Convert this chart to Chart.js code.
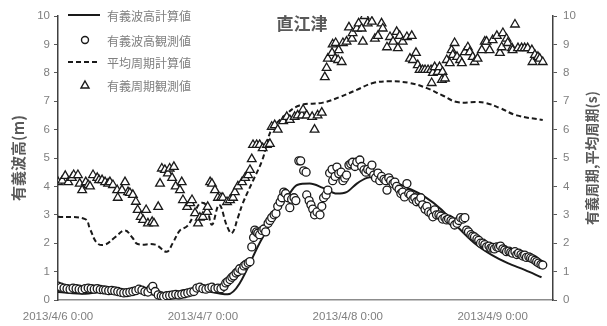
<!DOCTYPE html>
<html lang="ja">
<head>
    <meta charset="UTF-8">
    <title>直江津</title>
    <script src="https://cdn.jsdelivr.net/npm/chart.js"></script>
    <style>
        body { margin: 0; background: #fff; }
        canvas { display: block; }
    </style>
</head>
<body>
    <canvas id="chart" width="607" height="326"></canvas>

    <script>
        // x values are hours since 2013/4/6 0:00
        const tickHours = [0, 24, 48, 72];
        const tickLabels = ["2013/4/6 0:00", "2013/4/7 0:00", "2013/4/8 0:00", "2013/4/9 0:00"];

        // 有義波高計算値 (m)
        const calcWaveHours = [0, 4.5, 7, 12, 16, 18, 21, 23, 25, 27,
            28.1, 33.9, 36.3, 37.9, 39.6, 41.7, 43.9, 46.2, 47.8, 49.5,
            51.2, 53.3, 55.8, 57.9, 60.8, 63.6, 66.2, 69, 71.9, 74.5,
            77.3, 80.1];
        const calcWaveValues = [0.28, 0.22, 0.28, 0.3, 0.18, 0.12, 0.35, 0.35, 0.3, 0.22,
            0.2, 2.2, 3.1, 3.6, 4.05, 4.1, 3.95, 3.75, 3.8, 4.1,
            4.3, 4.35, 4.15, 3.95, 3.63, 3.17, 2.57, 2.0, 1.58, 1.3,
            1.06, 0.8];

        // 有義波高観測値 (m)
        const obsWaveHours = [
            0, 0.5, 1.0, 1.5, 2.0, 2.5, 3.0, 3.5, 4.0, 4.5,
            5.0, 5.5, 6.0, 6.5, 7.0, 7.5, 7.9, 8.4, 8.9, 9.4,
            9.9, 10.4, 10.9, 11.4, 11.9, 12.4, 12.9, 13.4, 13.9, 14.4,
            14.9, 15.4, 15.7, 16.1, 16.6, 17.1, 17.5, 18.0, 18.5, 19.0,
            19.5, 20.0, 20.5, 21.0, 21.5, 22.0, 22.5, 23.0, 23.5, 24.0,
            24.5, 25.0, 25.5, 26.0, 26.5, 27.0, 27.5, 27.8, 28.1, 28.5,
            28.8, 29.1, 29.5, 29.8, 30.1, 30.5, 30.8, 31.1, 31.5, 31.8,
            32.1, 32.4, 32.6, 32.9, 33.1, 33.4, 33.8, 34.1, 34.4, 34.8,
            35.1, 35.4, 35.8, 36.1, 36.4, 36.8, 37.1, 37.4, 37.7, 38.1,
            38.4, 38.7, 39.1, 39.4, 39.9, 40.2, 40.7, 41.1, 41.2, 41.6,
            41.9, 42.2, 42.5, 42.9, 43.4, 43.7, 44.0, 44.4, 44.7, 45.0,
            45.4, 45.5, 45.9, 46.2, 46.5, 46.9, 47.2, 47.5, 47.8, 48.2,
            48.5, 48.8, 49.2, 49.5, 50.0, 50.3, 50.7, 51.0, 51.3, 51.7,
            52.0, 52.3, 52.6, 53.0, 53.3, 53.6, 54.0, 54.3, 54.5, 54.8,
            55.1, 55.5, 55.8, 56.1, 56.5, 56.8, 57.1, 57.4, 57.8, 58.1,
            58.4, 58.8, 59.1, 59.4, 59.8, 60.1, 60.4, 60.8, 61.1, 61.4,
            61.8, 62.1, 62.4, 62.7, 63.1, 63.4, 63.7, 64.1, 64.4, 64.7,
            65.1, 65.4, 65.7, 66.1, 66.4, 66.7, 67.1, 67.4, 67.7, 68.0,
            68.4, 68.7, 69.0, 69.4, 69.7, 70.0, 70.4, 70.7, 71.0, 71.4,
            71.7, 72.0, 72.3, 72.7, 73.0, 73.3, 73.7, 74.0, 74.3, 74.7,
            75.0, 75.3, 75.7, 76.0, 76.3, 76.7, 77.0, 77.3, 77.6, 78.0,
            78.3, 78.6, 79.0, 79.3, 79.6, 80.0, 80.3];
        const obsWaveValues = [
            0.49, 0.45, 0.42, 0.40, 0.38, 0.42, 0.40, 0.38, 0.36, 0.40,
            0.42, 0.40, 0.38, 0.40, 0.37, 0.36, 0.35, 0.33, 0.34, 0.32,
            0.30, 0.27, 0.25, 0.26, 0.28, 0.30, 0.33, 0.38, 0.35, 0.30,
            0.28, 0.40, 0.48, 0.30, 0.18, 0.14, 0.12, 0.15, 0.16, 0.18,
            0.20, 0.18, 0.20, 0.22, 0.25, 0.28, 0.30, 0.42, 0.45, 0.40,
            0.38, 0.42, 0.45, 0.40, 0.42, 0.40, 0.48, 0.60, 0.65, 0.72,
            0.80, 0.85, 0.95, 1.00, 1.10, 1.05, 1.20, 1.25, 1.30, 1.35,
            1.87, 2.20, 2.46, 2.40, 2.35, 2.30, 2.45, 2.50, 2.40, 2.70,
            2.80, 2.90, 3.00, 3.05, 3.30, 3.45, 3.60, 3.80, 3.75, 3.60,
            3.25, 3.55, 3.60, 3.50, 4.90, 4.90, 4.55, 4.50, 3.70, 3.50,
            3.35, 3.20, 3.00, 3.10, 3.00, 3.30, 3.60, 3.70, 3.87, 4.47,
            4.60, 4.20, 4.35, 4.68, 4.45, 4.50, 4.20, 4.30, 4.40, 4.75,
            4.80, 4.85, 4.70, 4.86, 4.93, 4.70, 4.58, 4.50, 4.60, 4.55,
            4.75, 4.40, 4.30, 4.47, 4.20, 4.35, 4.25, 4.20, 3.87, 4.30,
            4.20, 4.10, 4.15, 4.00, 3.90, 3.75, 3.80, 3.63, 4.10, 3.75,
            3.70, 3.55, 3.60, 3.46, 3.50, 3.60, 3.35, 3.20, 3.30, 3.10,
            3.05, 2.93, 3.17, 3.00, 3.00, 2.95, 2.85, 2.90, 2.82, 2.85,
            2.80, 2.75, 2.64, 2.70, 2.80, 2.90, 2.85, 2.90, 2.46, 2.40,
            2.30, 2.25, 2.22, 2.15, 2.10, 2.00, 2.00, 1.95, 1.87, 1.90,
            1.83, 1.85, 1.80, 1.87, 1.85, 1.90, 1.80, 1.76, 1.70, 1.72,
            1.68, 1.65, 1.70, 1.60, 1.65, 1.60, 1.55, 1.58, 1.50, 1.52,
            1.48, 1.45, 1.40, 1.35, 1.30, 1.25, 1.23];

        // 平均周期計算値 (s)
        const calcPeriodHours = [0, 4.5, 5.3, 6.5, 7.8, 9.4, 11.1, 12.3, 13.2, 16.1,
            18.0, 19.0, 20.2, 21.4, 22.4, 23.5, 24.5, 25.5, 26.7, 28.0,
            28.8, 29.8, 30.6, 32.3, 33.8, 34.6, 35.4, 37.6, 40.0, 43.9,
            46.7, 49.5, 52.2, 55.0, 58.3, 61.1, 63.7, 66.1, 69.4, 71.0,
            73.2, 76.0, 80.3];
        const calcPeriodValues = [2.93, 2.85, 2.5, 2.0, 1.95, 2.2, 2.45, 2.2, 1.97, 1.95,
            1.7, 2.0, 2.45, 2.6, 2.95, 3.4, 3.35, 2.65, 3.35, 2.6,
            2.35, 2.9, 3.4, 4.2, 4.9, 5.5, 6.0, 6.5, 6.85, 6.95,
            7.15, 7.4, 7.64, 7.7, 7.64, 7.46, 7.2, 6.97, 6.97, 6.93,
            6.76, 6.5, 6.34];

        // 有義周期観測値 (s)
        const obsPeriodHours = [
            0.0, 0.7, 1.2, 1.7, 2.3, 2.6, 3.3, 3.6, 4.0, 4.6,
            5.0, 5.3, 5.8, 6.5, 6.8, 7.3, 7.8, 8.3, 8.6, 9.1,
            9.8, 9.9, 10.6, 11.1, 11.6, 11.9, 12.4, 12.9, 13.2, 13.7,
            14.1, 14.6, 14.9, 15.6, 15.9, 16.6, 16.9, 17.2, 17.7, 18.2,
            18.5, 18.9, 19.2, 19.5, 20.2, 20.5, 20.7, 21.4, 21.9, 22.2,
            22.7, 23.2, 23.5, 24.0, 24.7, 24.8, 25.2, 25.5, 26.0, 26.5,
            27.0, 27.3, 28.0, 28.5, 29.0, 29.3, 29.8, 30.5, 31.0, 31.5,
            31.8, 32.1, 32.3, 32.9, 33.4, 33.9, 34.6, 35.1, 35.4, 35.9,
            36.4, 37.3, 37.9, 38.4, 39.2, 39.7, 40.4, 40.6, 41.2, 42.1,
            42.5, 43.0, 43.7, 44.2, 44.5, 44.7, 45.4, 45.5, 45.9, 46.0,
            46.4, 46.5, 47.0, 47.2, 47.8, 48.2, 48.7, 48.8, 49.5, 49.8,
            50.3, 50.5, 50.8, 51.3, 52.0, 52.5, 53.0, 53.6, 53.8, 54.5,
            55.0, 55.5, 56.1, 56.3, 56.6, 57.1, 57.8, 58.3, 58.6, 58.8,
            59.3, 59.6, 59.9, 60.4, 60.8, 61.3, 61.8, 61.9, 62.1, 62.4,
            62.9, 63.2, 63.6, 63.7, 64.1, 64.4, 64.9, 65.2, 65.4, 65.7,
            66.1, 66.6, 66.9, 67.4, 67.9, 68.2, 68.7, 69.0, 69.5, 70.2,
            70.7, 71.0, 71.5, 72.0, 72.7, 73.2, 73.5, 73.7, 74.3, 74.5,
            75.2, 75.3, 75.7, 76.2, 76.8, 77.3, 77.8, 78.5, 78.6, 79.0,
            79.5, 79.8, 80.3];
        const obsPeriodValues = [
            4.15, 4.2, 4.37, 4.15, 4.3, 4.4, 4.4, 4.1, 3.87, 4.15,
            4.05, 4.0, 4.4, 4.3, 4.22, 4.22, 4.15, 4.1, 4.15, 4.05,
            3.87, 3.6, 3.87, 4.15, 3.8, 3.77, 3.7, 3.46, 3.17, 2.93,
            2.82, 3.17, 2.7, 2.75, 2.7, 3.28, 4.1, 4.63, 4.58, 4.46,
            4.63, 4.3, 4.69, 4.0, 3.87, 4.15, 3.52, 3.28, 3.41, 3.52,
            3.06, 2.7, 2.9, 2.93, 3.1, 3.28, 4.15, 4.1, 3.87, 3.6,
            3.6, 3.6, 3.45, 3.52, 3.6, 3.8, 4.0, 4.15, 4.3, 4.4,
            4.58, 4.96, 5.46, 5.46, 5.46, 5.35, 5.46, 5.5, 6.1, 6.16,
            6.0, 6.3, 6.45, 6.34, 6.45, 6.5, 6.5, 6.7, 6.5, 6.45,
            6.0, 6.5, 6.6, 7.85, 8.17, 8.5, 8.7, 9.0, 8.5, 9.05,
            8.45, 8.8, 8.38, 9.05, 9.1, 9.6, 9.2, 9.4, 9.56, 9.74,
            9.56, 9.1, 10.0, 9.74, 9.8, 9.2, 9.3, 9.74, 9.56, 8.9,
            9.26, 9.1, 9.44, 8.87, 9.3, 9.1, 9.26, 8.5, 9.3, 8.45,
            8.7, 8.27, 8.1, 8.1, 8.1, 8.1, 8.1, 7.64, 8.0, 8.2,
            8.03, 8.2, 7.75, 8.03, 7.8, 8.45, 8.34, 8.8, 8.63, 9.05,
            8.56, 8.45, 8.34, 8.73, 8.9, 8.73, 8.56, 8.38, 8.5, 8.8,
            9.1, 9.1, 8.8, 9.15, 9.3, 8.7, 8.9, 9.4, 9.2, 9.05,
            8.87, 8.8, 9.7, 8.87, 8.87, 8.87, 8.87, 8.8, 8.38, 8.63,
            8.56, 8.5, 8.38];

        const FONT = "'Liberation Sans', 'Noto Sans CJK JP', sans-serif";
        const JP_FONT = "'Noto Sans CJK JP', sans-serif";
        const TEXT_GRAY = "#595959";
        const TICK_GRAY = "#7f7f7f";

        function toPoints(xs, ys) {
            return xs.map((x, i) => ({ x: x, y: ys[i] }));
        }

        // chart title, legend and right axis title (reads bottom to top like the left one)
        const overlay = {
            id: "overlay",
            afterDraw(chart) {
                const ctx = chart.ctx;
                const area = chart.chartArea;
                ctx.save();
                ctx.fillStyle = TEXT_GRAY;
                ctx.font = "bold 17px " + JP_FONT;
                ctx.textAlign = "center";
                ctx.textBaseline = "middle";
                ctx.fillText("直江津", 302, 24);

                ctx.save();
                ctx.translate(592, (area.top + area.bottom) / 2);
                ctx.rotate(-Math.PI / 2);
                ctx.font = "bold 14px " + JP_FONT;
                ctx.fillText("有義周期,平均周期(s)", 0, 0);
                ctx.restore();

                const rows = [
                    { label: "有義波高計算値", kind: "solid", y: 15 },
                    { label: "有義波高観測値", kind: "circle", y: 40 },
                    { label: "平均周期計算値", kind: "dashed", y: 62 },
                    { label: "有義周期観測値", kind: "triangle", y: 85 }
                ];
                ctx.font = "12px " + JP_FONT;
                ctx.textAlign = "left";
                rows.forEach(r => {
                    ctx.strokeStyle = "#1a1a1a";
                    ctx.fillStyle = "#fff";
                    ctx.lineWidth = 2;
                    if (r.kind === "solid" || r.kind === "dashed") {
                        ctx.setLineDash(r.kind === "dashed" ? [5, 3] : []);
                        ctx.beginPath();
                        ctx.moveTo(68, r.y);
                        ctx.lineTo(100, r.y);
                        ctx.stroke();
                        ctx.setLineDash([]);
                    } else if (r.kind === "circle") {
                        ctx.lineWidth = 1.4;
                        ctx.beginPath();
                        ctx.arc(85, r.y, 3.5, 0, Math.PI * 2);
                        ctx.fill();
                        ctx.stroke();
                    } else {
                        ctx.lineWidth = 1.4;
                        ctx.beginPath();
                        ctx.moveTo(85, r.y - 4);
                        ctx.lineTo(89, r.y + 3);
                        ctx.lineTo(81, r.y + 3);
                        ctx.closePath();
                        ctx.fill();
                        ctx.stroke();
                    }
                    ctx.fillStyle = TICK_GRAY;
                    ctx.fillText(r.label, 107, r.y + 1);
                });
                ctx.restore();
            }
        };

        const tickFont = { family: FONT, size: 11.5 };

        new Chart(document.getElementById("chart"), {
            type: "line",
            data: {
                datasets: [
                    {
                        label: "有義周期観測値",
                        data: toPoints(obsPeriodHours, obsPeriodValues),
                        yAxisID: "y2",
                        showLine: false,
                        pointStyle: "triangle",
                        pointRadius: 5,
                        pointBorderWidth: 1.3,
                        pointBorderColor: "#1a1a1a",
                        pointBackgroundColor: "#fff",
                        order: 0
                    },
                    {
                        label: "平均周期計算値",
                        data: toPoints(calcPeriodHours, calcPeriodValues),
                        yAxisID: "y2",
                        borderColor: "#1a1a1a",
                        borderWidth: 2,
                        borderDash: [5, 3],
                        pointRadius: 0,
                        tension: 0.4,
                        order: 1
                    },
                    {
                        label: "有義波高観測値",
                        data: toPoints(obsWaveHours, obsWaveValues),
                        yAxisID: "y",
                        showLine: false,
                        pointStyle: "circle",
                        pointRadius: 4,
                        pointBorderWidth: 1.3,
                        pointBorderColor: "#1a1a1a",
                        pointBackgroundColor: "#fff",
                        order: 2
                    },
                    {
                        label: "有義波高計算値",
                        data: toPoints(calcWaveHours, calcWaveValues),
                        yAxisID: "y",
                        borderColor: "#1a1a1a",
                        borderWidth: 2,
                        pointRadius: 0,
                        cubicInterpolationMode: "monotone",
                        order: 3
                    }
                ]
            },
            options: {
                responsive: false,
                animation: false,
                layout: { padding: { top: 16 } },
                plugins: {
                    legend: { display: false },
                    tooltip: { enabled: false }
                },
                scales: {
                    x: {
                        type: "linear",
                        min: 0,
                        max: 82,
                        afterBuildTicks: scale => {
                            scale.ticks = tickHours.map(v => ({ value: v }));
                        },
                        afterFit: scale => { scale.height = 26; },
                        ticks: {
                            autoSkip: false,
                            maxRotation: 0,
                            padding: 2,
                            color: TICK_GRAY,
                            font: tickFont,
                            callback: value => tickLabels[tickHours.indexOf(value)]
                        },
                        grid: { display: false },
                        border: { display: true, color: "#8c8c8c", width: 1.5 }
                    },
                    y: {
                        position: "left",
                        min: 0,
                        max: 10,
                        afterFit: scale => { scale.width = 58; },
                        ticks: { stepSize: 1, padding: 4, color: TICK_GRAY, font: tickFont },
                        grid: { drawOnChartArea: false, tickLength: 4, color: "#595959", lineWidth: 1 },
                        border: { color: "#404040", width: 1.5 },
                        title: {
                            display: true,
                            text: "有義波高(m)",
                            color: TEXT_GRAY,
                            font: { family: JP_FONT, size: 15, weight: "bold" },
                            padding: { top: 9, bottom: 0 }
                        }
                    },
                    y2: {
                        position: "right",
                        min: 0,
                        max: 10,
                        afterFit: scale => { scale.width = 54; },
                        ticks: { stepSize: 1, padding: 6, color: TICK_GRAY, font: tickFont },
                        grid: { drawOnChartArea: false, tickLength: 4, color: "#595959", lineWidth: 1 },
                        border: { color: "#404040", width: 1.5 }
                    }
                }
            },
            plugins: [overlay]
        });
    </script>
</body>
</html>
